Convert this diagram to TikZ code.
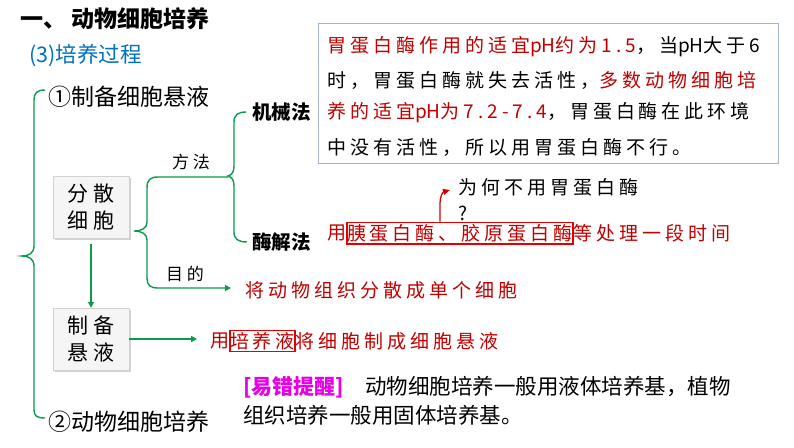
\documentclass[tikz,border=0pt]{standalone}
\usepackage{fontspec}
\setmainfont{Noto Sans CJK SC}
\newfontfamily\songti[LetterSpace=21]{Noto Sans CJK SC}
\newfontfamily\xiwen{Noto Sans CJK SC}
\newcommand\ph{{\xiwen pH}}
\usetikzlibrary{positioning,shadows,arrows.meta}
\definecolor{lvse}{RGB}{10,155,75}
\definecolor{hongse}{RGB}{192,0,0}
\definecolor{lanse}{RGB}{0,112,192}
\definecolor{zise}{RGB}{230,0,230}
\definecolor{kuang}{RGB}{165,180,200}

\begin{document}
\begin{tikzpicture}[x=1pt,y=-1pt,
    every node/.style={inner sep=0pt,anchor=west},
    hei/.style={font=\fontsize{23}{27}\selectfont},
    song/.style={font=\songti\fontsize{19}{26}\selectfont},
    hong/.style={song,text=hongse},
    fenzhi/.style={lvse,line width=1.4pt},
    jiantou/.style={lvse,line width=1.4pt,-{Triangle[length=6pt,width=6pt]}},
    hongjian/.style={red!85!black,line width=1.3pt,-{Triangle[length=7pt,width=6pt]}},
    hui box/.style={draw=gray!35,fill=gray!8,anchor=center,align=center,
        minimum width=76pt,minimum height=62pt,
        drop shadow={opacity=0.35,shadow xshift=1.5pt,shadow yshift=-1.5pt},
        font=\songti\fontsize{21}{27}\selectfont},
    hong box/.style={hong,draw=red!90!black,line width=1.2pt,inner ysep=2pt}]
  \useasboundingbox[fill=white] (0,0) rectangle (794,447);

  \node[font=\bfseries\fontsize{23}{27}\selectfont] (biaoti) at (20,19) {一、\ 动物细胞培养};
  \node[font=\fontsize{21.5}{25}\selectfont,text=lanse] (guocheng) at (29,55) {(3)培养过程};
  \node[hei] (xuanye) at (48,97) {①制备细胞悬液};
  \node[hei] (peiyang) at (48,422) {②动物细胞培养};

  \node[hui box] (fensan) at (91,207) {分散\\细胞};
  \node[hui box] (zhibei) at (91,339) {制备\\悬液};

  \node[font=\bfseries\fontsize{19.5}{23}\selectfont] (jixie) at (252,112) {机械法};
  \node[font=\bfseries\fontsize{19.5}{23}\selectfont] (meijie) at (252,242) {酶解法};
  \node[song,font=\songti\fontsize{17}{20}\selectfont,anchor=center] (fangfa) at (191,162) {方法};
  \node[song,font=\songti\fontsize{17}{20}\selectfont,anchor=center] (mudi) at (185,274) {目的};

  \draw[kuang,line width=0.8pt] (318,23) rectangle (778,163);
  \node[song] (hang1) at (327,47) {\textcolor{hongse}{胃蛋白酶作用的适宜\ph 约为1.5}，当\ph 大于6};
  \node[song] (hang2) at (327,80) {时，胃蛋白酶就失去活性，\textcolor{hongse}{多数动物细胞培}};
  \node[song] (hang3) at (327,113) {\textcolor{hongse}{养的适宜\ph 为7.2-7.4}，胃蛋白酶在此环境};
  \node[song] (hang4) at (327,147) {中没有活性，所以用胃蛋白酶不行。};

  \node[song,align=left] (weihe) at (458,200) {为何不用胃蛋白酶\\?};
  \node[hong] (yong1) at (327,233) {用};
  \node[hong box,right=0pt of yong1] (mei) {胰蛋白酶、胶原蛋白酶};
  \node[hong,right=0pt of mei] (chuli) {等处理一段时间};
  \node[hong] (danxibao) at (245,290) {将动物组织分散成单个细胞};
  \node[hong] (yong2) at (210,341) {用};
  \node[hong box,right=0pt of yong2] (peiyangye) {培养液};
  \node[hong,right=0pt of peiyangye] (zhicheng) {将细胞制成细胞悬液};

  \node[font=\bfseries\fontsize{21}{25}\selectfont,text=zise] (tixing) at (243,387) {[易错提醒]};
  \node[font=\fontsize{21.5}{25}\selectfont] (tixing1) at (365,387) {动物细胞培养一般用液体培养基，植物};
  \node[font=\fontsize{21.5}{25}\selectfont] (tixing2) at (243,415) {组织培养一般用固体培养基。};

  \draw[fenzhi] (45,90) .. controls (37,90) and (34,93) .. (34,100) -- (34,246)
    .. controls (34,253) and (29,256) .. (22,256) .. controls (29,256) and (34,259) .. (34,266)
    -- (34,410) .. controls (34,416) and (37,418) .. (45,418);
  \draw[fenzhi] (246,112) .. controls (238,112) and (234,115) .. (234,122) -- (234,166)
    .. controls (234,172) and (232,175) .. (228,176) .. controls (232,177) and (234,180) .. (234,186)
    -- (234,232) .. controls (234,239) and (238,242) .. (247,242);
  \draw[jiantou] (228,177) -- (158,177) .. controls (150,177) and (147,180) .. (147,188) -- (147,222)
    .. controls (147,228) and (142,231) .. (134,231) .. controls (142,231) and (147,234) .. (147,240)
    -- (147,278) .. controls (147,285) and (150,288) .. (158,288) -- (231,288);
  \draw[jiantou,shorten <=6pt] (fensan.south) -- (zhibei.north);
  \draw[jiantou,shorten >=13pt] (zhibei.east) -- (zhibei.east -| yong2.west);

  \coordinate (wen) at (440,0);
  \draw[hongjian] (mei.north -| wen) -- (440,203) .. controls (440,196) and (443,192) .. (450,190);
\end{tikzpicture}
\end{document}
